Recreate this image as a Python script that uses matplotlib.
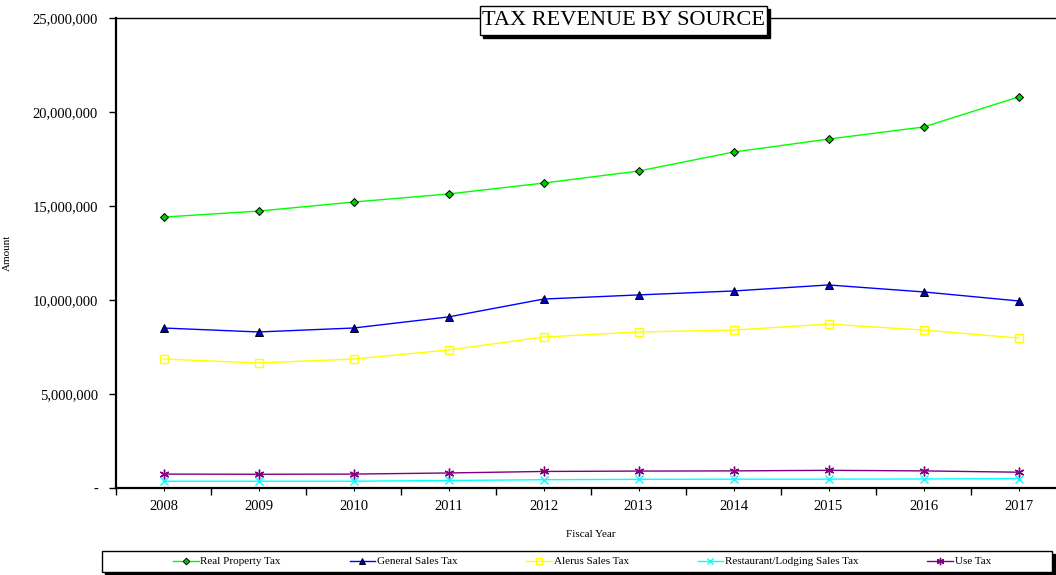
import matplotlib
matplotlib.use("Agg")
import matplotlib.pyplot as plt
import matplotlib.patches as mpatches
from matplotlib.ticker import FuncFormatter, FixedLocator

plt.rcParams['font.family'] = ['Liberation Serif', 'DejaVu Serif']

years = ["2008", "2009", "2010", "2011", "2012", "2013", "2014", "2015", "2016", "2017"]
real_property = [14.41, 14.73, 15.21, 15.64, 16.22, 16.86, 17.87, 18.56, 19.20, 20.80]
general_sales = [8.51, 8.30, 8.51, 9.10, 10.05, 10.27, 10.48, 10.80, 10.43, 9.95]
alerus_sales = [6.86, 6.65, 6.86, 7.34, 8.03, 8.30, 8.40, 8.72, 8.40, 7.98]
restaurant_lodging = [0.36, 0.36, 0.36, 0.40, 0.44, 0.46, 0.47, 0.47, 0.48, 0.50]
use_tax = [0.74, 0.73, 0.74, 0.80, 0.88, 0.90, 0.91, 0.94, 0.91, 0.84]
series_names = ["Real Property Tax", "General Sales Tax", "Alerus Sales Tax",
                "Restaurant/Lodging Sales Tax", "Use Tax"]

W, H = 1056, 575
fig = plt.figure(figsize=(W / 100, H / 100), dpi=100)
ax = fig.add_axes([116 / W, 1 - 488 / H, 950 / W, 470 / H])

x = list(range(len(years)))
scale = 1e6
ax.plot(x, [v * scale for v in real_property], color="#00ff00", lw=1,
        marker="D", ms=4.5, mfc="#00cc00", mec="black", mew=0.7, label=series_names[0])
ax.plot(x, [v * scale for v in general_sales], color="#0000ff", lw=1,
        marker="^", ms=6, mfc="#0000cc", mec="black", mew=0.7, label=series_names[1])
ax.plot(x, [v * scale for v in alerus_sales], color="#ffff00", lw=1,
        marker="s", ms=6, mfc="none", mec="#ffff00", mew=1, label=series_names[2])
ax.plot(x, [v * scale for v in restaurant_lodging], color="#00ffff", lw=1,
        marker="x", ms=6, mec="#00ffff", mew=1, label=series_names[3])
ax.plot(x, [v * scale for v in use_tax], color="#800080", lw=1,
        marker=(6, 2, 0), ms=7, mec="#800080", mew=1, label=series_names[4])

ax.set_xlim(-0.5, len(years) - 0.5)
ax.set_ylim(0, 25e6)
ax.set_yticks([0, 5e6, 10e6, 15e6, 20e6, 25e6])
ax.yaxis.set_major_formatter(FuncFormatter(lambda v, p: "-" if v == 0 else f"{v:,.0f}"))
ax.tick_params(axis="y", direction="out", length=5, width=1, labelsize=10.5, pad=8)

# category labels at minor positions, boundary ticks as majors
ax.xaxis.set_major_locator(FixedLocator([i - 0.5 for i in range(len(years) + 1)]))
ax.xaxis.set_minor_locator(FixedLocator(x))
ax.set_xticklabels([""] * (len(years) + 1))
ax.set_xticklabels(years, minor=True)
ax.tick_params(axis="x", which="major", direction="out", length=5, width=1)
ax.tick_params(axis="x", which="minor", direction="out", length=2, width=0.8,
               labelsize=10.5, pad=7)

for s in ["left", "bottom"]:
    ax.spines[s].set_linewidth(1.6)
ax.spines["top"].set_linewidth(1.0)
ax.spines["right"].set_visible(False)

ax.set_xlabel("Fiscal Year", fontsize=8, labelpad=12)
ax.set_ylabel("Amount", fontsize=8)
ax.yaxis.set_label_coords(-104 / 950, 0.5)


def framed_box(x0, y0, x1, y1, off=3, zorder=1):
    """White box with a black drop shadow, given in figure pixels from the top-left."""
    w, h = (x1 - x0) / W, (y1 - y0) / H
    fig.patches.append(mpatches.Rectangle(((x0 + off) / W, 1 - (y1 + off) / H), w, h,
                                          transform=fig.transFigure, fc="black",
                                          ec="black", lw=1, zorder=zorder))
    fig.patches.append(mpatches.Rectangle((x0 / W, 1 - y1 / H), w, h,
                                          transform=fig.transFigure, fc="white",
                                          ec="black", lw=1, zorder=zorder + 0.5))


# title box
framed_box(480, 6, 767, 35, off=3, zorder=5)
fig.text(623.5 / W, 1 - 20.5 / H, "TAX REVENUE BY SOURCE", ha="center", va="center",
         fontsize=16, color="black", zorder=7)

# legend frame
framed_box(102, 551, 1052, 572, off=3, zorder=1)
handles, labels = ax.get_legend_handles_labels()
leg = fig.legend(handles, labels, loc="center", ncol=5,
                 bbox_to_anchor=(582 / W, 1 - 561.5 / H), frameon=False, fontsize=8,
                 handlelength=2.3, handletextpad=0.15, columnspacing=6.2,
                 markerscale=0.75)
leg.set_zorder(3)

fig.savefig("out.png", dpi=100)
